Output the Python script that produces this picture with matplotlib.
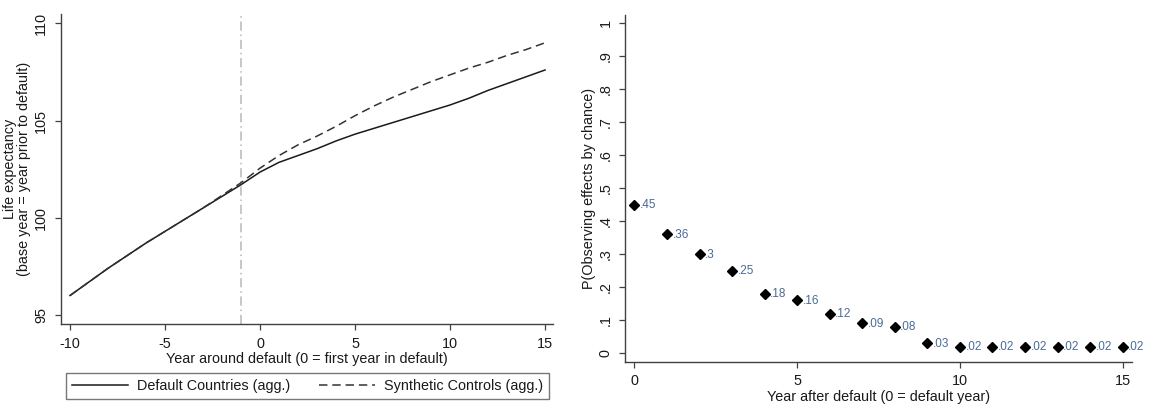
import matplotlib
matplotlib.use("Agg")
import matplotlib.pyplot as plt
from matplotlib.lines import Line2D

plt.rcParams['font.family'] = ['Liberation Sans', 'DejaVu Sans']
plt.rcParams['axes.unicode_minus'] = False

# ---- Left panel data ----
years = list(range(-10, 16))
default_countries = [96.0, 96.7, 97.4, 98.05, 98.7, 99.3, 99.9, 100.5, 101.1, 101.7,
                     102.35, 102.85, 103.2, 103.55, 103.95, 104.3, 104.6, 104.9, 105.2,
                     105.5, 105.8, 106.15, 106.55, 106.9, 107.25, 107.6]
synthetic_controls = [96.0, 96.7, 97.4, 98.05, 98.7, 99.3, 99.9, 100.5, 101.15, 101.8,
                      102.55, 103.2, 103.75, 104.2, 104.7, 105.25, 105.75, 106.2, 106.6,
                      107.0, 107.35, 107.7, 108.0, 108.35, 108.65, 109.0]
default_year_line = -1
left_xticks = [-10, -5, 0, 5, 10, 15]
left_yticks = [95, 100, 105, 110]

# ---- Right panel data ----
years_after = list(range(0, 16))
p_chance = [0.45, 0.36, 0.30, 0.25, 0.18, 0.16, 0.12, 0.09, 0.08, 0.03,
            0.02, 0.02, 0.02, 0.02, 0.02, 0.02]
p_labels = ['.45', '.36', '.3', '.25', '.18', '.16', '.12', '.09', '.08', '.03',
            '.02', '.02', '.02', '.02', '.02', '.02']
right_xticks = [0, 5, 10, 15]
right_yticks = [0, 0.1, 0.2, 0.3, 0.4, 0.5, 0.6, 0.7, 0.8, 0.9, 1.0]
right_yticklabels = ['0', '.1', '.2', '.3', '.4', '.5', '.6', '.7', '.8', '.9', '1']

W, H = 1157, 407
fig = plt.figure(figsize=(W / 100, H / 100), dpi=100)

spine_c = '#404040'
fs = 10.4

def style(ax):
    for s in ['top', 'right']:
        ax.spines[s].set_visible(False)
    for s in ['left', 'bottom']:
        ax.spines[s].set_color(spine_c)
        ax.spines[s].set_linewidth(1.0)
    ax.tick_params(direction='out', length=4, width=0.9, color=spine_c,
                   labelsize=fs, pad=5, labelcolor='#1a1a1a')
    for lbl in ax.get_yticklabels():
        lbl.set_rotation(90)
        lbl.set_va('center')

# Left axes
axL = fig.add_axes([60.7 / W, 1 - 324.3 / H, (553 - 60.7) / W, (324.3 - 14) / H])
axL.plot(years, default_countries, color='#1a1a1a', lw=1.1, label='Default Countries (agg.)')
axL.plot(years, synthetic_controls, color='#333333', lw=1.1, dashes=(5.5, 3.2),
         label='Synthetic Controls (agg.)')
axL.axvline(default_year_line, color='#b8b8b8', lw=1.1, dashes=(6, 2.5, 1, 2.5), zorder=0)
axL.set_xlim(-10.49, 15.42)
axL.set_ylim(94.52, 110.48)
axL.set_xticks(left_xticks)
axL.set_yticks(left_yticks)
axL.set_xticklabels([str(t) for t in left_xticks])
axL.set_yticklabels([str(t) for t in left_yticks])
style(axL)
axL.set_xlabel('Year around default (0 = first year in default)', fontsize=fs, labelpad=1,
               color='#1a1a1a')
axL.set_ylabel('Life expectancy\n(base year = year prior to default)', fontsize=fs,
               labelpad=2, color='#1a1a1a', linespacing=1.0)

handles = [Line2D([], [], color='#1a1a1a', lw=1.1),
           Line2D([], [], color='#333333', lw=1.1, dashes=(5.5, 3.2))]
leg = fig.legend(handles, ['Default Countries (agg.)', 'Synthetic Controls (agg.)'],
                 loc='lower left', bbox_to_anchor=(66 / W, 1 - 399 / H, (549 - 66) / W, 25 / H),
                 mode='expand', ncol=2, frameon=True, fancybox=False, fontsize=fs,
                 handlelength=3.9, handletextpad=0.6, borderpad=0.4, borderaxespad=0,
                 columnspacing=2.0)
leg.get_frame().set_edgecolor('#555555')
leg.get_frame().set_linewidth(1.0)
for t in leg.get_texts():
    t.set_color('#1a1a1a')

# Right axes
axR = fig.add_axes([625 / W, 1 - 361.7 / H, (1131.7 - 625) / W, (361.7 - 15) / H])
axR.plot(years_after, p_chance, linestyle='none', marker='D', markersize=5,
         color='black')
for x, y, s in zip(years_after, p_chance, p_labels):
    axR.annotate(s, (x, y), xytext=(4, -0.5), textcoords='offset points',
                 ha='left', va='center', fontsize=8.5, color='#4a6a94')
axR.set_xlim(-0.29, 15.28)
axR.set_ylim(-0.026, 1.025)
axR.set_xticks(right_xticks)
axR.set_yticks(right_yticks)
axR.set_xticklabels([str(t) for t in right_xticks])
axR.set_yticklabels(right_yticklabels)
style(axR)
axR.set_xlabel('Year after default (0 = default year)', fontsize=fs, labelpad=1,
               color='#1a1a1a')
axR.set_ylabel('P(Observing effects by chance)', fontsize=fs, labelpad=2, color='#1a1a1a')

fig.savefig('out.png', dpi=100, facecolor='white')
